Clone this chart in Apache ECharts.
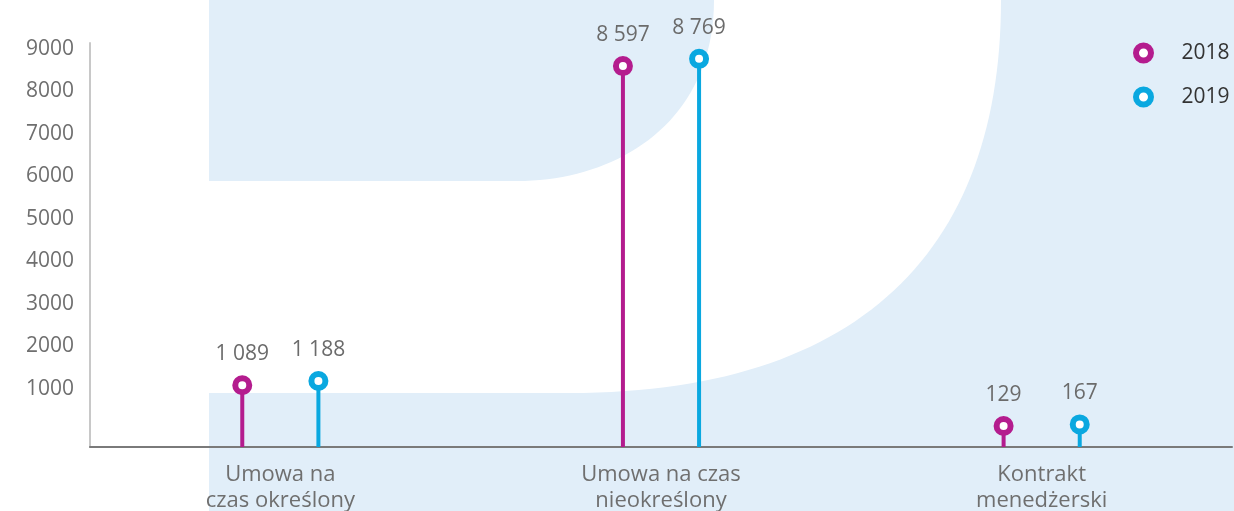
<!DOCTYPE html>
<html lang="pl">
<head>
<meta charset="utf-8">
<title>Umowy</title>
<script src="https://cdn.jsdelivr.net/npm/echarts@6/dist/echarts.min.js"></script>
<style>
  html, body { margin: 0; padding: 0; background: #ffffff; }
  #chart { width: 1234px; height: 511px; }
</style>
</head>
<body>
<div id="chart"></div>
<script>
// Contract types and headcount per year
const categories = ['Umowa na\nczas określony', 'Umowa na czas\nnieokreślony', 'Kontrakt\nmenedżerski'];
const values2018 = [1089, 8597, 129];
const values2019 = [1188, 8769, 167];
const yTicks = [1000, 2000, 3000, 4000, 5000, 6000, 7000, 8000, 9000];

const Y_MIN = -365;
const Y_MAX = 9141;
const MAGENTA = '#B41C8E';
const BLUE = '#0AA8E0';
const FONT = '"Open Sans", "Noto Sans", sans-serif';

function fmt(v) {
  return String(v).replace(/\B(?=(\d{3})+(?!\d))/g, ' ');
}

// Sample a cubic Bézier into polygon points (decorative backdrop shape)
function cubic(p0, p1, p2, p3, n) {
  const pts = [];
  for (let i = 0; i <= n; i++) {
    const t = i / n, u = 1 - t;
    pts.push([
      u * u * u * p0[0] + 3 * u * u * t * p1[0] + 3 * u * t * t * p2[0] + t * t * t * p3[0],
      u * u * u * p0[1] + 3 * u * u * t * p1[1] + 3 * u * t * t * p2[1] + t * t * t * p3[1]
    ]);
  }
  return pts;
}
const backdropCut = [[209, 181]]
  .concat(cubic([517, 181], [620, 181], [714, 120], [714, 0], 40))
  .concat(cubic([1001, 0], [1001, 250], [860, 393], [569, 393], 60))
  .concat([[209, 393]]);

// Lollipop: stem from the axis floor, ring marker and value label on top
function makeRender(color, offsetFrac) {
  return function (params, api) {
    const cat = api.value(0);
    const v = api.value(1);
    const band = api.size([1, 0])[0];
    const top = api.coord([cat, v]);
    const base = api.coord([cat, Y_MIN]);
    const x = top[0] + offsetFrac * band;
    return {
      type: 'group',
      children: [
        { type: 'line', shape: { x1: x, y1: base[1], x2: x, y2: top[1] },
          style: { stroke: color, lineWidth: 4 } },
        { type: 'circle', shape: { cx: x, cy: top[1], r: 7 },
          style: { fill: '#ffffff', stroke: color, lineWidth: 6 } },
        { type: 'text', x: x, y: top[1] - 31,
          style: { text: fmt(v), fill: '#6b6b6b', font: '21px ' + FONT,
                   align: 'center', verticalAlign: 'middle' } }
      ]
    };
  };
}

const chart = echarts.init(document.getElementById('chart'), null, { renderer: 'canvas' });

chart.setOption({
  backgroundColor: '#ffffff',
  animation: false,
  graphic: [
    { type: 'rect', z: -20, silent: true,
      shape: { x: 209, y: 0, width: 1025, height: 511 },
      style: { fill: '#E1EEF9' } },
    { type: 'polygon', z: -19, silent: true,
      shape: { points: backdropCut },
      style: { fill: '#ffffff' } }
  ],
  legend: {
    orient: 'vertical',
    left: 1133,
    top: 42,
    padding: 0,
    itemWidth: 66,
    itemHeight: 15,
    itemGap: 22,
    textStyle: { color: '#333333', fontSize: 21, fontFamily: FONT, lineHeight: 22 },
    data: [
      { name: '2018', icon: 'circle', itemStyle: { color: '#ffffff', borderColor: MAGENTA, borderWidth: 6 } },
      { name: '2019', icon: 'circle', itemStyle: { color: '#ffffff', borderColor: BLUE, borderWidth: 6 } }
    ]
  },
  grid: { left: 90, right: 2, top: 43, bottom: 64, containLabel: false, outerBoundsMode: 'none' },
  xAxis: {
    type: 'category',
    data: categories,
    axisLine: { onZero: false, lineStyle: { color: '#7a7a7a', width: 2 } },
    axisTick: { show: false },
    axisLabel: { color: '#6f6f6f', fontSize: 22, fontFamily: FONT, lineHeight: 26, margin: 15, interval: 0 }
  },
  yAxis: {
    type: 'value',
    min: Y_MIN,
    max: Y_MAX,
    splitLine: { show: false },
    axisTick: { show: false },
    axisLine: { show: true, lineStyle: { color: '#c8c8c8', width: 2 } },
    axisLabel: {
      color: '#6f6f6f', fontSize: 21, fontFamily: FONT, margin: 16,
      customValues: yTicks,
      formatter: (v) => String(v)
    }
  },
  series: [
    { name: '2018', type: 'custom', itemStyle: { color: MAGENTA },
      renderItem: makeRender(MAGENTA, -0.1),
      data: values2018.map((v, i) => [i, v]) },
    { name: '2019', type: 'custom', itemStyle: { color: BLUE },
      renderItem: makeRender(BLUE, 0.1),
      data: values2019.map((v, i) => [i, v]) }
  ]
});
</script>
</body>
</html>
